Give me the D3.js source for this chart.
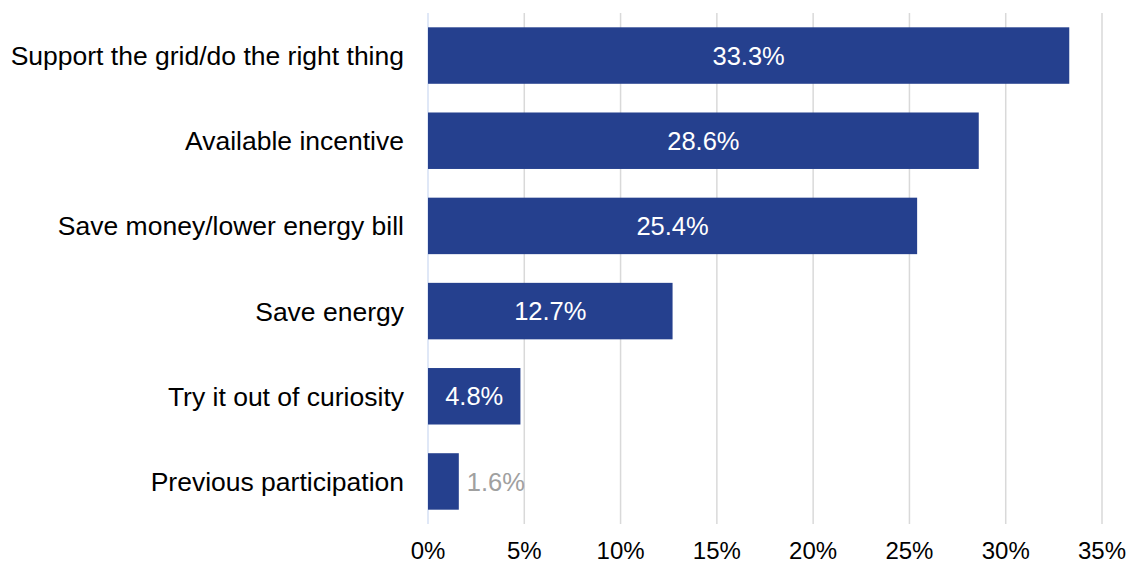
<!DOCTYPE html>
<html>
<head>
<meta charset="utf-8">
<script src="https://cdn.jsdelivr.net/npm/d3@7"></script>
<style>
  body { margin: 0; background: #fff; }
  svg text { font-family: "Liberation Sans", Arial, sans-serif; }
</style>
</head>
<body>
<div id="chart"></div>
<script>
const categories = [
  'Support the grid/do the right thing',
  'Available incentive',
  'Save money/lower energy bill',
  'Save energy',
  'Try it out of curiosity',
  'Previous participation'
];
const values = [33.3, 28.6, 25.4, 12.7, 4.8, 1.6];
const tickValues = [0, 5, 10, 15, 20, 25, 30, 35];

function drawChart() {
  const width = 1130, height = 565;
  const margin = { top: 13, right: 28, bottom: 41, left: 428 };

  const svg = d3.select('#chart').append('svg')
    .attr('width', width)
    .attr('height', height);

  const x = d3.scaleLinear().domain([0, 35]).range([margin.left, width - margin.right]);
  const y = d3.scaleBand().domain(categories)
    .range([margin.top, height - margin.bottom])
    .paddingInner(0.337).paddingOuter(0.168);

  // gridlines
  svg.append('g').selectAll('line')
    .data(tickValues)
    .join('line')
    .attr('x1', d => x(d)).attr('x2', d => x(d))
    .attr('y1', margin.top).attr('y2', height - margin.bottom)
    .attr('stroke', d => d === 0 ? '#d6e0f5' : '#d9d9d9')
    .attr('stroke-width', 1.5);

  const data = categories.map((c, i) => ({ cat: c, value: values[i] }));

  svg.append('g').selectAll('rect')
    .data(data)
    .join('rect')
    .attr('x', x(0))
    .attr('y', d => y(d.cat))
    .attr('width', d => x(d.value) - x(0))
    .attr('height', y.bandwidth())
    .attr('fill', '#25408e');

  // value labels
  svg.append('g').selectAll('text')
    .data(data)
    .join('text')
    .attr('x', d => d.value < 3 ? x(d.value) + 8 : (x(0) + x(d.value)) / 2)
    .attr('y', d => y(d.cat) + y.bandwidth() / 2)
    .attr('dy', '0.36em')
    .attr('text-anchor', d => d.value < 3 ? 'start' : 'middle')
    .attr('fill', d => d.value < 3 ? '#a0a0a0' : '#ffffff')
    .attr('font-size', '25.5px')
    .text(d => d.value.toFixed(1) + '%');

  // category axis
  svg.append('g').selectAll('text')
    .data(categories)
    .join('text')
    .attr('x', 404)
    .attr('y', d => y(d) + y.bandwidth() / 2)
    .attr('dy', '0.36em')
    .attr('text-anchor', 'end')
    .attr('fill', '#000')
    .attr('font-size', '26.5px')
    .text(d => d);

  // x axis labels
  svg.append('g').selectAll('text')
    .data(tickValues)
    .join('text')
    .attr('x', d => x(d))
    .attr('y', 559)
    .attr('text-anchor', 'middle')
    .attr('fill', '#000')
    .attr('font-size', '24px')
    .text(d => d + '%');
}

drawChart();
</script>
</body>
</html>
